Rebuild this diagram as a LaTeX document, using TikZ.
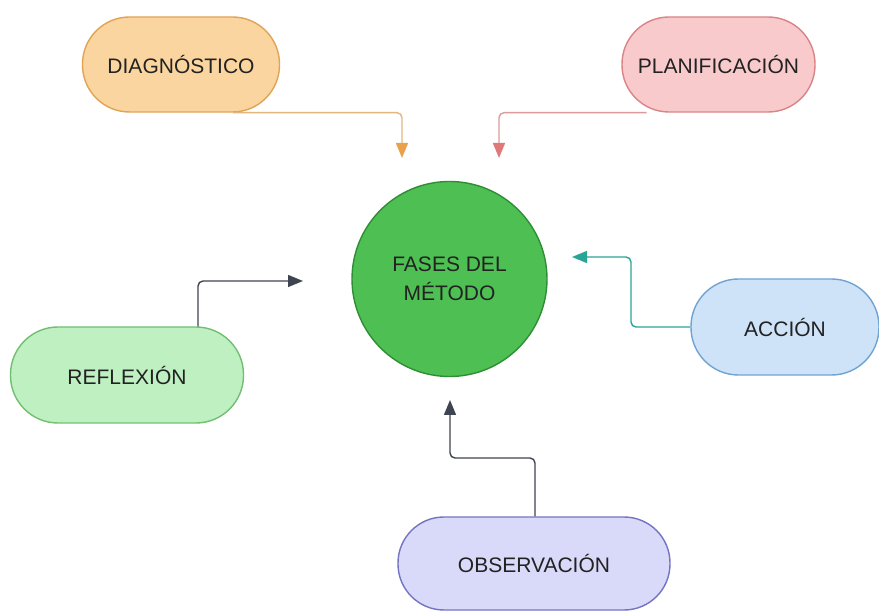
\documentclass[tikz,border=0pt]{standalone}
\usepackage{fontspec}
\setmainfont{Liberation Sans}
\usetikzlibrary{arrows.meta,calc}
\definecolor{txt}{HTML}{222222}
\definecolor{diagF}{HTML}{FBD59F}\definecolor{diagD}{HTML}{E0A456}\definecolor{diagL}{HTML}{E2B77E}\definecolor{diagA}{HTML}{E9A24B}
\definecolor{planF}{HTML}{F9CACC}\definecolor{planD}{HTML}{D98487}\definecolor{planL}{HTML}{DC9A9A}\definecolor{planA}{HTML}{E07A78}
\definecolor{refF}{HTML}{BFF0C1}\definecolor{refD}{HTML}{72BF72}
\definecolor{accF}{HTML}{CEE3F8}\definecolor{accD}{HTML}{6FA3D2}\definecolor{accL}{HTML}{2AA595}
\definecolor{obsF}{HTML}{D9D9F9}\definecolor{obsD}{HTML}{7474C2}
\definecolor{cirF}{HTML}{4EC053}\definecolor{cirD}{HTML}{2F8E35}
\definecolor{darkL}{HTML}{3F4550}
\tikzset{
  pill/.style={draw, line width=1.4pt, text=txt, font=\fontsize{21}{25}\selectfont, inner sep=0pt},
  conn/.style={line width=1.4pt, rounded corners=5pt, -{Triangle[length=15pt,width=12pt]}},
}
\begin{document}
\begin{tikzpicture}[x=1pt,y=-1pt]
\useasboundingbox (0,0) rectangle (879,612);
\fill[white] (0,0) rectangle (879,612);
\node[pill, fill=diagF, draw=diagD, minimum width=197pt, minimum height=95pt, rounded corners=47pt] (diag) at (181,64.5) {DIAGNÓSTICO};
\node[pill, fill=planF, draw=planD, minimum width=193pt, minimum height=95pt, rounded corners=47pt] (plan) at (718.5,64.5) {PLANIFICACIÓN};
\node[pill, fill=refF, draw=refD, minimum width=233pt, minimum height=96pt, rounded corners=47.5pt] (ref) at (127,375) {REFLEXIÓN};
\node[pill, fill=accF, draw=accD, minimum width=188pt, minimum height=96pt, rounded corners=47.5pt] (acc) at (785,327) {ACCIÓN};
\node[pill, fill=obsF, draw=obsD, minimum width=272pt, minimum height=93pt, rounded corners=46pt] (obs) at (534,563.5) {OBSERVACIÓN};
\node[circle, draw=cirD, fill=cirF, line width=1.4pt, minimum size=195pt, inner sep=0pt, text=txt, align=center, font=\fontsize{21}{29}\selectfont] (fases) at (449.5,279) {FASES DEL\\MÉTODO};
\coordinate (tDiag) at (402,158);
\coordinate (tPlan) at (499,158);
\coordinate (tRef) at (303,281);
\coordinate (tAcc) at (572,257);
\coordinate (tObs) at (450,400);
\draw[conn, draw=diagL, -{Triangle[length=15pt,width=12pt,color=diagA]}] ($(diag.south)+(52,0)$) -| (tDiag);
\draw[conn, draw=planL, -{Triangle[length=15pt,width=12pt,color=planA]}] ($(plan.south)+(-72,0)$) -| (tPlan);
\draw[conn, draw=darkL, fill=none] ($(ref.north)+(71,0)$) |- (tRef);
\draw[conn, draw=accL] (acc.west) -- (631,327) |- (tAcc);
\draw[conn, draw=darkL] ($(obs.north)+(1,0)$) -- (535,458) -| (tObs);
\end{tikzpicture}
\end{document}
